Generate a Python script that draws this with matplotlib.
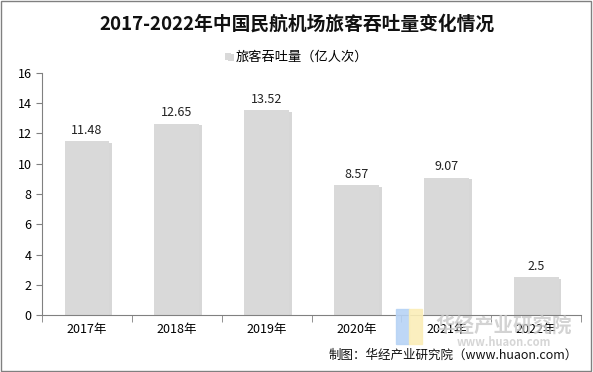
import matplotlib.pyplot as plt
import matplotlib.patheffects as pe
from matplotlib.patches import Rectangle

plt.rcParams['font.family'] = ['Noto Sans CJK SC', 'DejaVu Sans']

years = ['2017年', '2018年', '2019年', '2020年', '2021年', '2022年']
values = [11.48, 12.65, 13.52, 8.57, 9.07, 2.5]
value_labels = ['11.48', '12.65', '13.52', '8.57', '9.07', '2.5']

fig = plt.figure(figsize=(5.93, 3.72), dpi=100)
ax = fig.add_axes([0.071, 0.153, 0.909, 0.651])

x = range(len(years))
bars = ax.bar(x, values, width=0.5, color='#d9d9d9', zorder=2,
              label='旅客吞吐量（亿人次）')
for b in bars:
    b.set_path_effects([pe.SimplePatchShadow(offset=(2, -1), shadow_rgbFace='#b0b0b0', alpha=0.5),
                        pe.Normal()])

for i, v in enumerate(values):
    ax.text(i, v + 0.3, value_labels[i], ha='center', va='bottom', fontsize=9, color='#222222')

ax.set_xlim(-0.5, len(years) - 0.5)
ax.set_ylim(0, 16)
ax.set_yticks(range(0, 17, 2))
ax.set_xticks(x)
ax.set_xticklabels(years, fontsize=9)
ax.set_xticks([i + 0.5 for i in range(-1, len(years))], minor=True)
ax.tick_params(axis='x', which='major', length=0, pad=6)
ax.tick_params(axis='x', which='minor', length=5, color='#808080', direction='out')
ax.tick_params(axis='y', length=4, color='#808080', direction='out', labelsize=9)

for s in ['top', 'right']:
    ax.spines[s].set_visible(False)
ax.spines['left'].set_color('#808080')
ax.spines['bottom'].set_color('#808080')

fig.text(0.5, 0.935, '2017-2022年中国民航机场旅客吞吐量变化情况', ha='center', va='center',
         fontsize=13.5, fontweight='bold', color='#111111')

leg = fig.legend(handles=[bars], labels=['旅客吞吐量（亿人次）'], loc='center',
                 bbox_to_anchor=(0.5, 0.845), frameon=False, fontsize=9.5,
                 handlelength=0.45, handleheight=0.45, handletextpad=0.3)

# watermark
fig.patches.append(Rectangle((0.667, 0.075), 0.022, 0.095, transform=fig.transFigure,
                             color='#b7d3f5', zorder=5, alpha=0.9))
fig.patches.append(Rectangle((0.689, 0.075), 0.022, 0.095, transform=fig.transFigure,
                             color='#fbeeb8', zorder=5, alpha=0.9))
fig.text(0.85, 0.125, '华经产业研究院', ha='center', va='center', fontsize=14,
         fontweight='bold', fontstyle='italic', color='#c8c8c8', alpha=0.8, zorder=6)
fig.text(0.85, 0.08, 'www.huaon.com', ha='center', va='center', fontsize=8,
         fontweight='bold', color='#cccccc', alpha=0.8, zorder=6)

fig.text(0.975, 0.045, '制图：华经产业研究院（www.huaon.com）', ha='right', va='center',
         fontsize=9, color='#111111', zorder=7)

fig.patches.append(Rectangle((0.002, 0.003), 0.995, 0.994, transform=fig.transFigure,
                             fill=False, edgecolor='#808080', linewidth=1))

fig.savefig('out.png', dpi=100)
